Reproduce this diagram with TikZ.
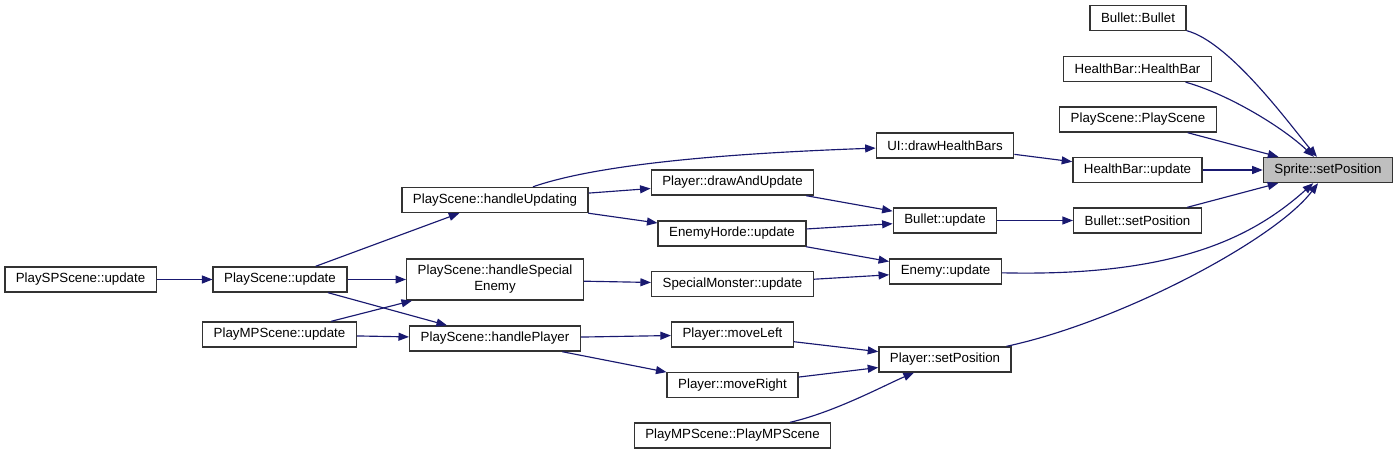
\documentclass[tikz,border=0pt]{standalone}
\usepackage{fontspec}
\setmainfont{Liberation Sans}
\usetikzlibrary{arrows.meta}
\definecolor{edgecol}{HTML}{191970}
\definecolor{boxline}{HTML}{333333}
\definecolor{hl}{HTML}{BFBFBF}
\begin{document}
\begin{tikzpicture}[x=1pt,y=-1pt,
  fn/.style={draw=boxline, line width=1.4pt, fill=white, inner xsep=11pt, inner ysep=0pt,
    minimum height=25pt, font=\fontsize{13.3}{16}\selectfont},
  cur/.style={fn, fill=hl},
  call/.style={draw=edgecol, line width=1.15pt, -{Triangle[length=10.5pt,width=8pt]}}]
\useasboundingbox (0,0) rectangle (1399,455);

\node[fn] (bb) at (1138,18) {Bullet::Bullet};
\node[fn] (hbhb) at (1137.5,69) {HealthBar::HealthBar};
\node[fn] (psps) at (1138,119.5) {PlayScene::PlayScene};
\node[fn] (hbu) at (1137.5,170) {HealthBar::update};
\node[cur] (ssp) at (1328,170) {Sprite::setPosition};
\node[fn] (bsp) at (1137.5,220.5) {Bullet::setPosition};
\node[fn] (ui) at (945,145.5) {UI::drawHealthBars};
\node[fn] (bu) at (945,220.5) {Bullet::update};
\node[fn] (eu) at (945.5,271.5) {Enemy::update};
\node[fn] (psp) at (945,359.5) {Player::setPosition};
\node[fn] (ml) at (732.5,334.5) {Player::moveLeft};
\node[fn] (mr) at (732.5,385) {Player::moveRight};
\node[fn] (pmpc) at (732.5,435.5) {PlayMPScene::PlayMPScene};
\node[fn] (dau) at (732.5,182.5) {Player::drawAndUpdate};
\node[fn] (ehu) at (732,233.5) {EnemyHorde::update};
\node[fn] (smu) at (732.5,284) {SpecialMonster::update};
\node[fn] (hu) at (495,200) {PlayScene::handleUpdating};
\node[fn, align=center, minimum height=41pt] (hse) at (495,279.5) {PlayScene::handleSpecial\\Enemy};
\node[fn] (hp) at (495,338.5) {PlayScene::handlePlayer};
\node[fn] (spu) at (80.5,279.5) {PlaySPScene::update};
\node[fn] (psu) at (280,279.5) {PlayScene::update};
\node[fn] (mpu) at (279.5,334.5) {PlayMPScene::update};

% edges into Sprite::setPosition
\draw[call] (bb) .. controls (1230,42) and (1290,125) .. (ssp);
\draw[call] (hbhb) .. controls (1225,93) and (1280,125) .. (ssp);
\draw[call] (psps) -- (ssp);
\draw[call] (hbu) -- (ssp);
\draw[call] (bsp) -- (ssp);
\draw[call] (eu) .. controls (1180,277) and (1255,235) .. (ssp);
\draw[call] (psp) .. controls (1120,322) and (1275,240) .. (ssp);

% middle layer
\draw[call] (ui) -- (hbu);
\draw[call] (bu) -- (bsp);
\draw[call] (dau) -- (bu);
\draw[call] (ehu) -- (bu);
\draw[call] (ehu) -- (eu);
\draw[call] (smu) -- (eu);
\draw[call] (ml) -- (psp);
\draw[call] (mr) -- (psp);
\draw[call] (pmpc) .. controls (835,412) and (885,385) .. (psp);

% handlers
\draw[call] (hu) .. controls (610,160) and (770,152) .. (ui);
\draw[call] (hu) -- (dau);
\draw[call] (hu) -- (ehu);
\draw[call] (hse) -- (smu);
\draw[call] (hp) -- (ml);
\draw[call] (hp) -- (mr);

% left side
\draw[call] (spu) -- (psu);
\draw[call] (psu) -- (hu);
\draw[call] (psu) -- (hse);
\draw[call] (psu) -- (hp);
\draw[call] (mpu) -- (hse);
\draw[call] (mpu) -- (hp);
\end{tikzpicture}
\end{document}
